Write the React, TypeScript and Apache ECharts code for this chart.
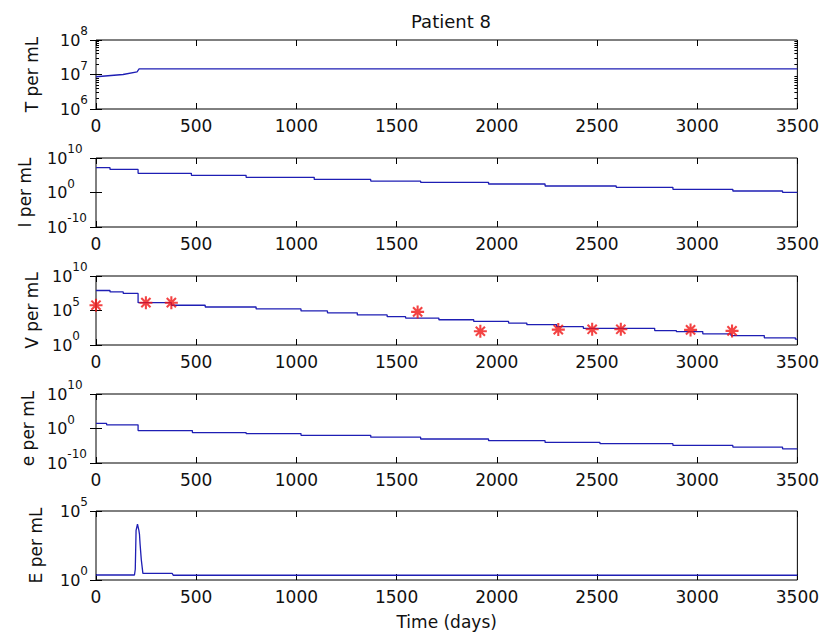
import React, { useEffect, useRef } from "react";
import * as echarts from "echarts";

// ---------- text ----------
const chartTitle = "Patient 8";
const xAxisTitle = "Time (days)";
const panelNames = ["T per mL", "I per mL", "V per mL", "e per mL", "E per mL"];

// ---------- axes ----------
const xMin = 0;
const xMax = 3500;
const xStep = 500;
const yRanges: number[][] = [
  [1e6, 1e8],
  [1e-10, 1e10],
  [1, 1e10],
  [1e-10, 1e10],
  [1, 1e5],
];
const yMajorTicks: number[][] = [
  [1e6, 1e7, 1e8],
  [1e-10, 1, 1e10],
  [1, 1e5, 1e10],
  [1e-10, 1, 1e10],
  [1, 1e5],
];
const tMinorTicks = [2e6, 3e6, 4e6, 5e6, 6e6, 7e6, 8e6, 9e6, 2e7, 3e7, 4e7, 5e7, 6e7, 7e7, 8e7, 9e7];

// ---------- data ----------
// T (uninfected cells)
const tDays = [0, 135, 205, 215, 3500];
const tValues = [8.6e6, 1.0e7, 1.2e7, 1.45e7, 1.45e7];

// I (infected cells), piecewise constant
const iDays = [0, 70, 210, 476, 749, 1089, 1371, 1620, 1959, 2241, 2596, 2879, 3178, 3426, 3500];
const iValues = [1.6e7, 5e6, 3.6e5, 9.5e4, 2.5e4, 6.3e3, 2.1e3, 890, 290, 76, 32, 8.5, 2.7, 1.15, 1.15];

// V (virus), model, piecewise constant
const vDays = [0, 70, 136, 210, 376, 545, 799, 1023, 1155, 1304, 1453, 1545, 1711, 1885, 2059, 2150, 2299, 2432, 2788, 2896, 3028, 3169, 3335, 3490, 3500];
const vValues = [7.9e7, 5.0e7, 2.95e7, 1.35e6, 5.75e5, 3.2e5, 1.7e5, 8.7e4, 4.6e4, 2.3e4, 1.26e4, 7.9e3, 4.6e3, 2.6e3, 1.5e3, 870, 457, 263, 123, 87, 41, 23, 11, 6.9, 6.9];

// V measured
const vObsDays = [0, 249, 376, 1605, 1918, 2307, 2476, 2619, 2967, 3174];
const vObsValues = [5.8e5, 1.35e6, 1.35e6, 6.3e4, 98, 170, 190, 190, 155, 110];

// e, piecewise constant
const eDays = [0, 53, 210, 481, 749, 1023, 1371, 1620, 1959, 2241, 2515, 2879, 3178, 3426, 3500];
const eValues = [29.5, 11.5, 0.25, 0.066, 0.034, 0.0107, 0.0031, 8.9e-4, 2.95e-4, 9.3e-5, 3.9e-5, 1.26e-5, 4e-6, 1.3e-6, 1.3e-6];

// E (effector cells)
const bigEDays = [0, 192, 196, 200, 207, 214, 217, 220, 226, 234, 380, 386, 3500];
const bigEValues = [2.3, 2.3, 6, 4000, 11000, 4000, 2000, 400, 30, 3, 3, 2.2, 2.2];

// ---------- styling ----------
const FONT = "DejaVu Sans";
const TXT = "#111111";
const LINE = "#1e1eb4";
const STAR = "#f01414";
const gridTops = [40, 158, 276, 394, 511];
const gridH = 69;
const gridLeft = 96;
const gridRight = 22;
const yLabelMargins = [36, 49, 44, 49, 36];
const yNameGaps = [56, 63, 56, 58, 52];

const starPath =
  "path://M-0.8,-5L0.8,-5L0.8,5L-0.8,5Z" +
  "M-5,-0.8L5,-0.8L5,0.8L-5,0.8Z" +
  "M-4.1,-2.97L-2.97,-4.1L4.1,2.97L2.97,4.1Z" +
  "M-4.1,2.97L2.97,-4.1L4.1,-2.97L-2.97,4.1Z";

function pairs(xs: number[], ys: number[]) {
  return xs.map((x, i) => [x, ys[i]]);
}

function expLabel(v: number) {
  const e = Math.round(Math.log10(v));
  return `{b|10}{s|${e}}`;
}

const richStyle = {
  b: { fontSize: 16, fontFamily: FONT, color: TXT, lineHeight: 18, verticalAlign: "middle" },
  s: { fontSize: 12, fontFamily: FONT, color: TXT, lineHeight: 14, padding: [0, 0, 18, 0], verticalAlign: "middle" },
};

export default function App() {
  const ref = useRef<HTMLDivElement>(null);

  useEffect(() => {
    if (!ref.current) return;
    const chart = echarts.init(ref.current, null, { renderer: "svg" });

    const grids = gridTops.map((top) => ({
      left: gridLeft,
      right: gridRight,
      top,
      height: gridH,
      show: true,
      borderColor: "#000",
      borderWidth: 1,
      backgroundColor: "#fff",
      containLabel: false,
    }));

    const xAxes: any[] = [];
    const yAxes: any[] = [];
    const xIdx: number[] = [];
    const yIdx: number[] = [];

    gridTops.forEach((_, g) => {
      xIdx.push(xAxes.length);
      xAxes.push({
        type: "value",
        gridIndex: g,
        position: "bottom",
        min: xMin,
        max: xMax,
        interval: xStep,
        axisLine: { show: false },
        axisTick: { show: true, inside: true, length: 6, lineStyle: { color: "#000" } },
        splitLine: { show: false },
        axisLabel: {
          show: true,
          margin: 8,
          fontSize: 17,
          fontFamily: FONT,
          color: TXT,
          hideOverlap: false,
          showMinLabel: true,
          showMaxLabel: true,
          formatter: (v: number) => String(v),
        },
        name: g === gridTops.length - 1 ? xAxisTitle : "",
        nameLocation: "middle",
        nameGap: 33,
        nameTextStyle: { fontSize: 17, fontFamily: FONT, color: TXT },
      });
      xAxes.push({
        type: "value",
        gridIndex: g,
        position: "top",
        min: xMin,
        max: xMax,
        interval: xStep,
        axisLine: { show: false },
        axisTick: { show: true, inside: true, length: 6, lineStyle: { color: "#000" } },
        splitLine: { show: false },
        axisLabel: { show: false },
      });

      const [lo, hi] = yRanges[g];
      yIdx.push(yAxes.length);
      yAxes.push({
        type: "log",
        logBase: 10,
        gridIndex: g,
        position: "left",
        min: lo,
        max: hi,
        axisLine: { show: false },
        axisTick: {
          show: true,
          inside: true,
          length: 6,
          customValues: yMajorTicks[g],
          lineStyle: { color: "#000" },
        },
        splitLine: { show: false },
        axisLabel: {
          show: true,
          customValues: yMajorTicks[g],
          align: "left",
          margin: yLabelMargins[g],
          formatter: (v: number) => expLabel(v),
          rich: richStyle,
        },
        name: panelNames[g],
        nameLocation: "middle",
        nameGap: yNameGaps[g],
        nameTextStyle: { fontSize: 17, fontFamily: FONT, color: TXT },
      });
      yAxes.push({
        type: "log",
        logBase: 10,
        gridIndex: g,
        position: "right",
        min: lo,
        max: hi,
        axisLine: { show: false },
        axisTick: {
          show: true,
          inside: true,
          length: 6,
          customValues: yMajorTicks[g],
          lineStyle: { color: "#000" },
        },
        splitLine: { show: false },
        axisLabel: { show: false },
      });
      if (g === 0) {
        ["left", "right"].forEach((pos) => {
          yAxes.push({
            type: "log",
            logBase: 10,
            gridIndex: g,
            position: pos,
            min: lo,
            max: hi,
            axisLine: { show: false },
            axisTick: {
              show: true,
              inside: true,
              length: 3,
              customValues: tMinorTicks,
              lineStyle: { color: "#000" },
            },
            splitLine: { show: false },
            axisLabel: { show: false },
          });
        });
      }
    });

    const lineBase = {
      type: "line",
      showSymbol: false,
      symbol: "none",
      lineStyle: { color: LINE, width: 1.3 },
      itemStyle: { color: LINE },
      clip: true,
    };

    const series: any[] = [
      { ...lineBase, xAxisIndex: xIdx[0], yAxisIndex: yIdx[0], data: pairs(tDays, tValues) },
      { ...lineBase, step: "end", xAxisIndex: xIdx[1], yAxisIndex: yIdx[1], data: pairs(iDays, iValues) },
      { ...lineBase, step: "end", xAxisIndex: xIdx[2], yAxisIndex: yIdx[2], data: pairs(vDays, vValues) },
      {
        type: "scatter",
        xAxisIndex: xIdx[2],
        yAxisIndex: yIdx[2],
        symbol: starPath,
        symbolSize: 13,
        itemStyle: { color: STAR },
        data: pairs(vObsDays, vObsValues),
        z: 5,
      },
      { ...lineBase, step: "end", xAxisIndex: xIdx[3], yAxisIndex: yIdx[3], data: pairs(eDays, eValues) },
      { ...lineBase, xAxisIndex: xIdx[4], yAxisIndex: yIdx[4], data: pairs(bigEDays, bigEValues) },
    ];

    chart.setOption({
      animation: false,
      backgroundColor: "#ffffff",
      title: {
        text: chartTitle,
        left: 446,
        top: 7,
        textAlign: "center",
        textStyle: { fontSize: 18, fontWeight: "normal", fontFamily: FONT, color: TXT },
      },
      grid: grids,
      xAxis: xAxes,
      yAxis: yAxes,
      series,
    });

    return () => chart.dispose();
  }, []);

  return (
    <div
      ref={ref}
      style={{ position: "absolute", left: 0, top: 0, width: 822, height: 641, background: "#fff" }}
    />
  );
}
